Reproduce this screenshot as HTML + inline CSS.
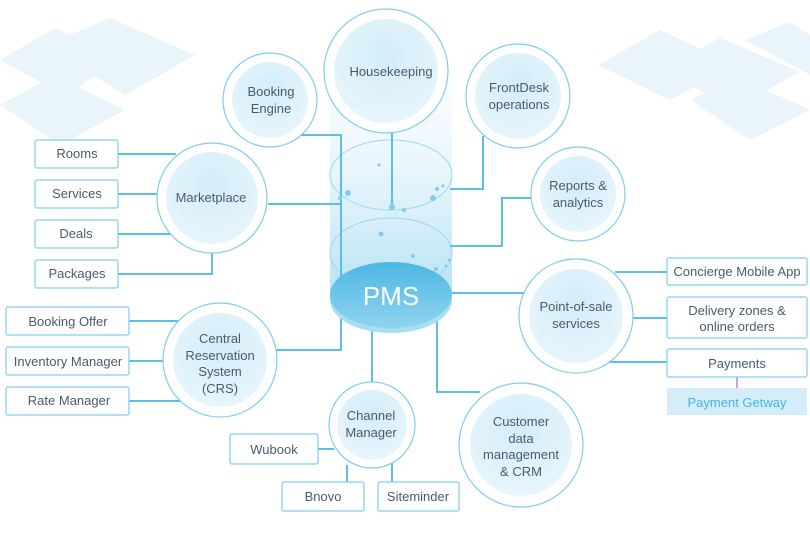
<!DOCTYPE html>
<html><head><meta charset="utf-8"><style>
body{margin:0;background:#fff}
svg{display:block;font-family:"Liberation Sans",sans-serif}
.t{fill:#4a5a70;font-size:13px;text-anchor:middle}
.b{fill:#fff;stroke:#7fcdee;stroke-width:1.2}
.l{stroke:#5bbfe8;stroke-width:2;fill:none}
</style></head><body>
<svg width="810" height="542" viewBox="0 0 810 542">
<defs>
<radialGradient id="ig" cx="0.5" cy="0.35" r="0.7"><stop offset="0" stop-color="#d3edf9"/><stop offset="1" stop-color="#e9f6fc"/></radialGradient>
<linearGradient id="cyl" x1="0" y1="0" x2="0" y2="1"><stop offset="0" stop-color="#eef8fd" stop-opacity="0.3"/><stop offset="1" stop-color="#b5e1f4"/></linearGradient>
<linearGradient id="pms" x1="0" y1="0" x2="0" y2="1"><stop offset="0" stop-color="#4db7e4"/><stop offset="1" stop-color="#8fd3f0"/></linearGradient>
</defs>
<g fill="#e2f2fa" opacity="0.75">
<polygon points="0,60 55,28 120,60 65,95"/>
<polygon points="45,45 110,18 195,55 125,95"/>
<polygon points="0,105 55,75 125,110 60,145"/>
<polygon points="598,65 660,30 735,65 670,100"/>
<polygon points="660,70 720,38 800,72 735,108"/>
<polygon points="690,100 740,78 810,110 750,140"/>
<polygon points="745,40 790,22 810,35 810,75"/>
</g>
<rect x="330" y="80" width="122" height="218" fill="url(#cyl)"/>
<ellipse cx="391" cy="175" rx="61" ry="35" fill="none" stroke="#9bd6ef" stroke-width="1"/>
<ellipse cx="391" cy="253" rx="61" ry="35" fill="none" stroke="#9bd6ef" stroke-width="1"/>
<path class="l" d="M300 135 H341 V290"/>
<path class="l" d="M268 204 H340"/>
<path class="l" d="M392 130 V207"/>
<path class="l" d="M483 136 V189 H450"/>
<path class="l" d="M532 198 H502 V246 H450"/>
<path class="l" d="M452 293 H530"/>
<path class="l" d="M276 350 H341 V310"/>
<path class="l" d="M372 325 V383"/>
<path class="l" d="M437 320 V392 H480"/>
<path class="l" d="M118 154 H176 M118 194 H158 M118 234 H172 M118 274 H212 V252"/>
<path class="l" d="M129 321 H182 M129 361 H164 M129 401 H182"/>
<path class="l" d="M615 272 H667 M632 318 H667 M605 362 H667"/>
<path class="l" d="M318 449 H334 M347 465 V482 M392 462 V482"/>
<path d="M737 377 V388" stroke="#c07ad0" stroke-width="1.5"/>
<g fill="#7fcdee">
<circle cx="392" cy="207" r="3"/><circle cx="404" cy="210" r="2"/><circle cx="379" cy="165" r="1.5"/>
<circle cx="348" cy="193" r="3"/><circle cx="340" cy="198" r="2"/><circle cx="433" cy="198" r="3"/><circle cx="437" cy="189" r="2"/><circle cx="443" cy="186" r="1.5"/>
<circle cx="381" cy="234" r="2.5"/><circle cx="413" cy="256" r="2"/><circle cx="436" cy="269" r="2"/><circle cx="446" cy="266" r="1.5"/><circle cx="449" cy="260" r="1.5"/>
</g>
<ellipse cx="391" cy="300" rx="61" ry="33" fill="#a8ddf2"/>
<ellipse cx="391" cy="295" rx="61" ry="33" fill="url(#pms)"/>
<text x="391" y="305" fill="#fff" font-size="26" text-anchor="middle">PMS</text>
<g>
<circle cx="386" cy="71" r="62" class="b"/><circle cx="386" cy="71" r="52" fill="url(#ig)"/>
<text class="t" x="391" y="76" font-size="14">Housekeeping</text>
<circle cx="270" cy="100" r="47" class="b"/><circle cx="270" cy="100" r="38" fill="url(#ig)"/>
<text class="t" x="271" y="96">Booking</text><text class="t" x="271" y="113">Engine</text>
<circle cx="518" cy="96" r="52" class="b"/><circle cx="518" cy="96" r="43" fill="url(#ig)"/>
<text class="t" x="519" y="92">FrontDesk</text><text class="t" x="519" y="109">operations</text>
<circle cx="578" cy="194" r="47" class="b"/><circle cx="578" cy="194" r="38" fill="url(#ig)"/>
<text class="t" x="578" y="190">Reports &amp;</text><text class="t" x="578" y="207">analytics</text>
<circle cx="212" cy="198" r="55" class="b"/><circle cx="212" cy="198" r="46" fill="url(#ig)"/>
<text class="t" x="211" y="202">Marketplace</text>
<circle cx="576" cy="316" r="57" class="b"/><circle cx="576" cy="316" r="47" fill="url(#ig)"/>
<text class="t" x="576" y="311">Point-of-sale</text><text class="t" x="576" y="328">services</text>
<circle cx="220" cy="360" r="57" class="b"/><circle cx="220" cy="360" r="47" fill="url(#ig)"/>
<text class="t" x="220" y="343">Central</text><text class="t" x="220" y="360">Reservation</text><text class="t" x="220" y="376">System</text><text class="t" x="220" y="393">(CRS)</text>
<circle cx="372" cy="425" r="43" class="b"/><circle cx="372" cy="425" r="35" fill="url(#ig)"/>
<text class="t" x="371" y="420">Channel</text><text class="t" x="371" y="437">Manager</text>
<circle cx="521" cy="445" r="62" class="b"/><circle cx="521" cy="445" r="51" fill="url(#ig)"/>
<text class="t" x="521" y="426">Customer</text><text class="t" x="521" y="443">data</text><text class="t" x="521" y="459">management</text><text class="t" x="521" y="476">&amp; CRM</text>
</g>
<g>
<rect class="b" x="35" y="140" width="83" height="28" rx="2"/><text class="t" x="77" y="158">Rooms</text>
<rect class="b" x="35" y="180" width="83" height="28" rx="2"/><text class="t" x="77" y="198">Services</text>
<rect class="b" x="35" y="220" width="83" height="28" rx="2"/><text class="t" x="76" y="238">Deals</text>
<rect class="b" x="35" y="260" width="83" height="28" rx="2"/><text class="t" x="77" y="278">Packages</text>
<rect class="b" x="6" y="307" width="123" height="28" rx="2"/><text class="t" x="68" y="326">Booking Offer</text>
<rect class="b" x="6" y="347" width="123" height="28" rx="2"/><text class="t" x="68" y="366">Inventory Manager</text>
<rect class="b" x="6" y="387" width="123" height="28" rx="2"/><text class="t" x="69" y="405">Rate Manager</text>
<rect class="b" x="667" y="258" width="140" height="27" rx="2"/><text class="t" x="737" y="276">Concierge Mobile App</text>
<rect class="b" x="667" y="297" width="140" height="41" rx="2"/><text class="t" x="737" y="315">Delivery zones &amp;</text><text class="t" x="737" y="331">online orders</text>
<rect class="b" x="667" y="349" width="140" height="28" rx="2"/><text class="t" x="737" y="368">Payments</text>
<rect x="667" y="388" width="140" height="27" fill="#d4edf9"/><text class="t" x="737" y="407" style="fill:#44b5e6">Payment Getway</text>
<rect class="b" x="230" y="434" width="88" height="30" rx="2"/><text class="t" x="274" y="454">Wubook</text>
<rect class="b" x="282" y="482" width="82" height="29" rx="2"/><text class="t" x="323" y="501">Bnovo</text>
<rect class="b" x="378" y="482" width="81" height="29" rx="2"/><text class="t" x="418" y="501">Siteminder</text>
</g>
</svg>
</body></html>
